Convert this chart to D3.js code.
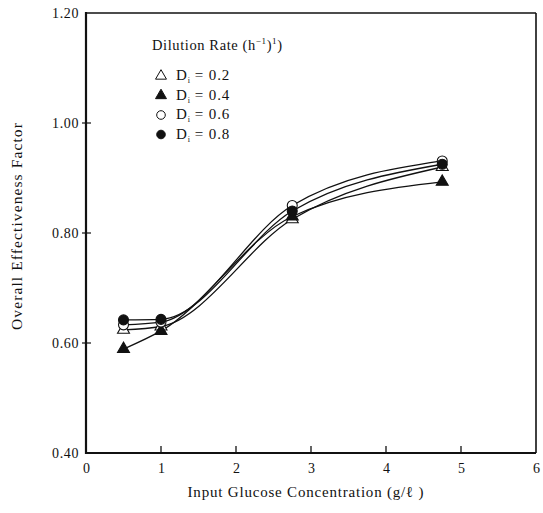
<!DOCTYPE html>
<html>
<head>
<meta charset="utf-8">
<script src="https://cdn.jsdelivr.net/npm/d3@7"></script>
<style>
  body { margin: 0; background: #fff; }
  svg { display: block; }
  text { font-family: "Liberation Serif", "DejaVu Serif", serif; fill: #111; }
</style>
</head>
<body>
<svg id="chart" width="543" height="513"></svg>
<script>
// Input glucose concentration (g/l)
const glucose = [0.5, 1.0, 2.75, 4.75];

// Overall effectiveness factor for each dilution rate
const rates = ["0.2", "0.4", "0.6", "0.8"];
const eff02 = [0.624, 0.630, 0.825, 0.920];
const eff04 = [0.589, 0.622, 0.830, 0.893];
const eff06 = [0.633, 0.638, 0.850, 0.931];
const eff08 = [0.642, 0.643, 0.840, 0.925];

const xTicks = [0, 1, 2, 3, 4, 5, 6];
const yTicks = [0.40, 0.60, 0.80, 1.00, 1.20];

const series = [
  { rate: rates[0], values: eff02, shape: d3.symbolTriangle, filled: false },
  { rate: rates[1], values: eff04, shape: d3.symbolTriangle, filled: true },
  { rate: rates[2], values: eff06, shape: d3.symbolCircle, filled: false },
  { rate: rates[3], values: eff08, shape: d3.symbolCircle, filled: true }
];

const svg = d3.select("#chart");
const pL = 86, pR = 536, pT = 13, pB = 453;

const x = d3.scaleLinear().domain([0, 6]).range([pL, pR]);
const y = d3.scaleLinear().domain([0.40, 1.20]).range([pB, pT]);

// Frame
svg.append("line").attr("x1", pL).attr("x2", pL).attr("y1", pT - 1).attr("y2", pB + 1)
  .attr("stroke", "#111").attr("stroke-width", 2.2);
svg.append("line").attr("x1", pL - 1).attr("x2", pR).attr("y1", pB).attr("y2", pB)
  .attr("stroke", "#111").attr("stroke-width", 2.2);
svg.append("line").attr("x1", pL).attr("x2", pR).attr("y1", pT).attr("y2", pT)
  .attr("stroke", "#111").attr("stroke-width", 1.6);
svg.append("line").attr("x1", pR).attr("x2", pR).attr("y1", pT).attr("y2", pB)
  .attr("stroke", "#111").attr("stroke-width", 1.6);

// Bottom axis: ticks pointing inward, labels below
const xAxis = d3.axisBottom(x).tickValues(xTicks).tickSize(0).tickPadding(10)
  .tickFormat(d3.format("d"));
const gx = svg.append("g").attr("transform", `translate(0,${pB})`).call(xAxis);
gx.select(".domain").remove();
gx.selectAll("text").attr("font-size", 14).attr("font-family", "Liberation Serif, serif");
svg.append("g").selectAll("line").data(xTicks.slice(1, -1)).join("line")
  .attr("x1", d => x(d)).attr("x2", d => x(d))
  .attr("y1", pB).attr("y2", pB - 7)
  .attr("stroke", "#111").attr("stroke-width", 1.3);

// Left axis: ticks crossing the line, labels to the left
const yAxis = d3.axisLeft(y).tickValues(yTicks).tickSize(0).tickPadding(7)
  .tickFormat(d3.format(".2f"));
const gy = svg.append("g").attr("transform", `translate(${pL},0)`).call(yAxis);
gy.select(".domain").remove();
gy.selectAll("text").attr("font-size", 14).attr("letter-spacing", 0.6)
  .attr("font-family", "Liberation Serif, serif");
svg.append("g").selectAll("line").data(yTicks.slice(1, -1)).join("line")
  .attr("x1", pL - 4).attr("x2", pL + 5)
  .attr("y1", d => y(d)).attr("y2", d => y(d))
  .attr("stroke", "#111").attr("stroke-width", 1.2);

// Axis titles
svg.append("text").attr("x", 306).attr("y", 497).attr("text-anchor", "middle")
  .attr("font-size", 15).attr("letter-spacing", 0.8)
  .text("Input Glucose Concentration (g/\u2113 )");
svg.append("text").attr("transform", "translate(22,226) rotate(-90)")
  .attr("text-anchor", "middle").attr("font-size", 15.5).attr("letter-spacing", 1.1)
  .text("Overall Effectiveness Factor");

// Smooth curves through each series
const line = d3.line()
  .x((d, i) => x(glucose[i]))
  .y(d => y(d))
  .curve(d3.curveMonotoneX);

svg.append("g").selectAll("path").data(series).join("path")
  .attr("d", s => line(s.values))
  .attr("fill", "none").attr("stroke", "#111").attr("stroke-width", 1.3);

// Markers
const sym = d3.symbol();
series.forEach(s => {
  const size = s.shape === d3.symbolTriangle ? 62 : 78;
  svg.append("g").selectAll("path").data(s.values).join("path")
    .attr("transform", (d, i) => `translate(${x(glucose[i])},${y(d)})`)
    .attr("d", sym.type(s.shape).size(size)())
    .attr("fill", s.filled ? "#111" : "#fff")
    .attr("stroke", "#111").attr("stroke-width", 1.1);
});

// Legend
const lg = svg.append("g");
const title = lg.append("text").attr("x", 152).attr("y", 50).attr("font-size", 14.5)
  .attr("letter-spacing", 0.6);
title.append("tspan").text("Dilution Rate (h");
title.append("tspan").attr("dy", -6).attr("font-size", 9).text("\u22121");
title.append("tspan").attr("dy", 6).text(")");
title.append("tspan").attr("dy", -6).attr("font-size", 9).text("1");
title.append("tspan").attr("dy", 6).text(")");

series.forEach((s, k) => {
  const ly = 80 + k * 19.5;
  const size = s.shape === d3.symbolTriangle ? 52 : 58;
  lg.append("path")
    .attr("transform", `translate(161,${ly - 4})`)
    .attr("d", sym.type(s.shape).size(size)())
    .attr("fill", s.filled ? "#111" : "#fff")
    .attr("stroke", "#111").attr("stroke-width", 1);
  const t = lg.append("text").attr("x", 176).attr("y", ly).attr("font-size", 15)
    .attr("letter-spacing", 0.9);
  t.append("tspan").text("D");
  t.append("tspan").attr("dy", 3).attr("font-size", 8).text("i");
  t.append("tspan").attr("dy", -3).text("\u2009= " + s.rate);
});
</script>
</body>
</html>
